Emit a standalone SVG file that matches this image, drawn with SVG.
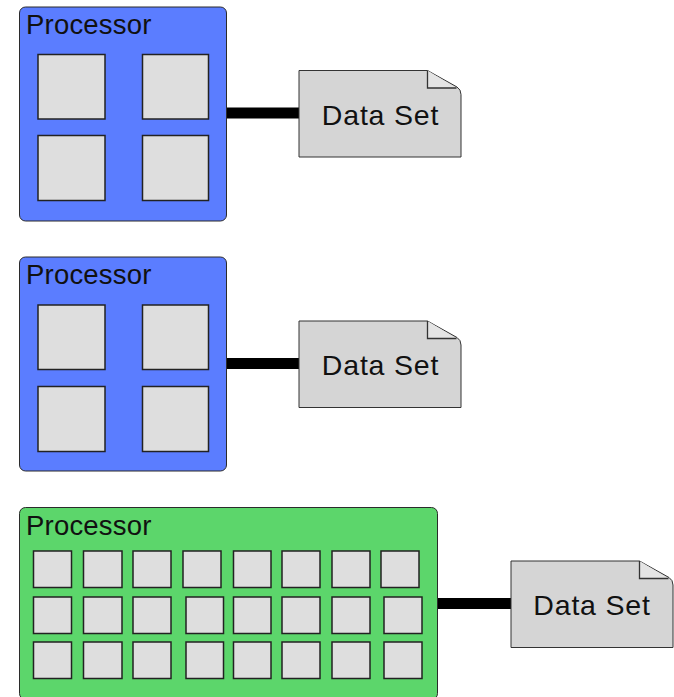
<svg xmlns="http://www.w3.org/2000/svg" width="674" height="697" viewBox="0 0 674 697">
  <defs>
    <style>
      .proc-blue { fill: #5b7dff; stroke: #2b2b2b; stroke-width: 1; }
      .proc-green { fill: #5cd66b; stroke: #2b2b2b; stroke-width: 1; }
      .core { fill: #dedede; stroke: #222222; stroke-width: 1.5; }
      .doc { fill: #d5d5d5; stroke: #333333; stroke-width: 1; }
      .fold { fill: #e4e4e4; stroke: #333333; stroke-width: 1.3; }
      .title { font-family: "Liberation Sans", Arial, sans-serif; font-size: 27.5px; letter-spacing: 0.2px; fill: #111111; }
      .label { font-family: "Liberation Sans", Arial, sans-serif; font-size: 28.5px; letter-spacing: 0.8px; fill: #111111; text-anchor: middle; }
      .link { stroke: #000000; stroke-width: 11; fill: none; }
    </style>
    <!-- data set document shape with folded top-right corner, origin at top-left -->
    <g id="docShape">
      <path class="doc" d="M0,0 H128.5 L158,16.5 Q162,19 162,24 V86.5 H0 Z"/>
      <path class="fold" d="M128.5,0 V17.5 H157.5"/>
    </g>
  </defs>

  <rect width="674" height="697" fill="#ffffff"/>

  <!-- connectors -->
  <g id="connectors">
    <line class="link" x1="226" y1="113" x2="299" y2="113"/>
    <line class="link" x1="226" y1="363.5" x2="299" y2="363.5"/>
    <line class="link" x1="437" y1="603.5" x2="511" y2="603.5"/>
  </g>

  <!-- processor with four cores -->
  <g id="processor1">
    <rect class="proc-blue" x="19.5" y="7" width="207" height="214" rx="6"/>
    <text class="title" x="26" y="33.5">Processor</text>
    <rect class="core" x="38" y="54.5" width="67" height="64.5"/>
    <rect class="core" x="142.5" y="54.5" width="66" height="64.5"/>
    <rect class="core" x="38" y="135.5" width="67" height="65"/>
    <rect class="core" x="142.5" y="135.5" width="66" height="65"/>
  </g>

  <g id="dataset1">
    <use href="#docShape" x="299" y="70.5"/>
    <text class="label" x="380.5" y="124.5">Data Set</text>
  </g>

  <!-- second four-core processor -->
  <g id="processor2">
    <rect class="proc-blue" x="19.5" y="257" width="207" height="214" rx="6"/>
    <text class="title" x="26" y="283.5">Processor</text>
    <rect class="core" x="38" y="305" width="67" height="64.5"/>
    <rect class="core" x="142.5" y="305" width="66" height="64.5"/>
    <rect class="core" x="38" y="386.5" width="67" height="65"/>
    <rect class="core" x="142.5" y="386.5" width="66" height="65"/>
  </g>

  <g id="dataset2">
    <use href="#docShape" x="299" y="321"/>
    <text class="label" x="380.5" y="375">Data Set</text>
  </g>

  <!-- many-core processor: 3 rows of 8 cores -->
  <g id="processor3">
    <rect class="proc-green" x="19.5" y="507.5" width="418" height="192" rx="6"/>
    <text class="title" x="26" y="534.5">Processor</text>
    <g>
      <rect class="core" x="33.5" y="551" width="38" height="36.5"/>
      <rect class="core" x="83.5" y="551" width="38.5" height="36.5"/>
      <rect class="core" x="133" y="551" width="38" height="36.5"/>
      <rect class="core" x="183" y="551" width="38" height="36.5"/>
      <rect class="core" x="233.5" y="551" width="37.5" height="36.5"/>
      <rect class="core" x="282" y="551" width="38" height="36.5"/>
      <rect class="core" x="332" y="551" width="38" height="36.5"/>
      <rect class="core" x="381" y="551" width="38" height="36.5"/>
    </g>
    <g>
      <rect class="core" x="33.5" y="597" width="38" height="36.5"/>
      <rect class="core" x="83.5" y="597" width="38.5" height="36.5"/>
      <rect class="core" x="133" y="597" width="38" height="36.5"/>
      <rect class="core" x="186" y="597" width="37.5" height="36.5"/>
      <rect class="core" x="233.5" y="597" width="37.5" height="36.5"/>
      <rect class="core" x="282" y="597" width="38" height="36.5"/>
      <rect class="core" x="332" y="597" width="38" height="36.5"/>
      <rect class="core" x="384" y="597" width="38" height="36.5"/>
    </g>
    <g>
      <rect class="core" x="33.5" y="642" width="38" height="36.5"/>
      <rect class="core" x="83.5" y="642" width="38.5" height="36.5"/>
      <rect class="core" x="133" y="642" width="38" height="36.5"/>
      <rect class="core" x="186" y="642" width="37.5" height="36.5"/>
      <rect class="core" x="233.5" y="642" width="37.5" height="36.5"/>
      <rect class="core" x="282" y="642" width="38" height="36.5"/>
      <rect class="core" x="332" y="642" width="38" height="36.5"/>
      <rect class="core" x="384" y="642" width="38" height="36.5"/>
    </g>
  </g>

  <g id="dataset3">
    <use href="#docShape" x="511" y="561"/>
    <text class="label" x="592" y="614.5">Data Set</text>
  </g>
</svg>
